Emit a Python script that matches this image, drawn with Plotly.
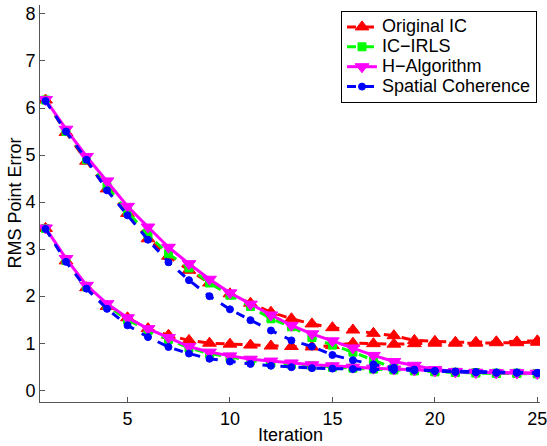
import plotly.graph_objects as go

iterations = list(range(1, 26))

# Upper curve set (start ~6.2)
orig_ic_high = [6.17, 5.48, 4.87, 4.28, 3.76, 3.22, 2.85, 2.55, 2.28, 2.05, 1.85, 1.66, 1.52, 1.41, 1.33, 1.28, 1.21, 1.16, 1.06, 1.04, 1.02, 1.02, 1.03, 1.03, 1.05]
ic_irls_high = [6.17, 5.50, 4.90, 4.33, 3.80, 3.30, 2.90, 2.60, 2.28, 2.02, 1.78, 1.52, 1.35, 1.12, 0.96, 0.81, 0.64, 0.47, 0.42, 0.40, 0.38, 0.37, 0.36, 0.36, 0.35]
h_alg_high = [6.18, 5.55, 4.97, 4.45, 3.91, 3.47, 3.04, 2.69, 2.36, 2.07, 1.83, 1.60, 1.38, 1.20, 1.05, 0.90, 0.74, 0.61, 0.53, 0.44, 0.40, 0.38, 0.37, 0.37, 0.36]
spatial_high = [6.15, 5.50, 4.90, 4.25, 3.72, 3.20, 2.72, 2.34, 2.00, 1.72, 1.49, 1.27, 1.06, 0.93, 0.75, 0.64, 0.55, 0.48, 0.44, 0.41, 0.39, 0.38, 0.37, 0.37, 0.36]

# Lower curve set (start ~3.45)
orig_ic_low = [3.44, 2.75, 2.18, 1.78, 1.54, 1.31, 1.17, 1.06, 1.00, 0.98, 0.96, 0.94, 0.93, 0.92, 0.95, 1.00, 0.99, 0.98, 0.99, 1.00, 1.00, 1.00, 1.01, 1.01, 1.02]
ic_irls_low = [3.44, 2.76, 2.20, 1.80, 1.50, 1.27, 1.08, 0.90, 0.78, 0.70, 0.63, 0.58, 0.55, 0.52, 0.49, 0.47, 0.45, 0.43, 0.41, 0.39, 0.38, 0.37, 0.36, 0.36, 0.35]
h_alg_low = [3.45, 2.80, 2.23, 1.84, 1.54, 1.31, 1.12, 0.93, 0.81, 0.73, 0.66, 0.62, 0.58, 0.54, 0.52, 0.49, 0.47, 0.45, 0.43, 0.41, 0.39, 0.38, 0.37, 0.37, 0.36]
spatial_low = [3.43, 2.73, 2.16, 1.73, 1.38, 1.13, 0.92, 0.78, 0.67, 0.61, 0.56, 0.52, 0.49, 0.47, 0.46, 0.45, 0.44, 0.43, 0.42, 0.41, 0.40, 0.39, 0.38, 0.38, 0.37]

x_ticks = [5, 10, 15, 20, 25]
y_ticks = [0, 1, 2, 3, 4, 5, 6, 7, 8]

series = [
    ("Original IC", orig_ic_high, orig_ic_low, "#ff0000", "dash", "triangle-up", 12),
    ("IC\u2212IRLS", ic_irls_high, ic_irls_low, "#00ff00", "dash", "square", 8),
    ("H\u2212Algorithm", h_alg_high, h_alg_low, "#ff00ff", "solid", "triangle-down", 12),
    ("Spatial Coherence", spatial_high, spatial_low, "#0000ff", "dash", "circle", 7),
]

FONT = "Liberation Sans, Arial, Helvetica, sans-serif"

fig = go.Figure()
for name, hi, lo, color, dash, sym, msize in series:
    for k, ys in enumerate((hi, lo)):
        fig.add_trace(go.Scatter(
            x=iterations, y=ys, mode="lines+markers",
            name='<span style="font-size:18px">' + name + "</span>",
            legendgroup=name, showlegend=(k == 0),
            line=dict(color=color, width=3, dash=dash),
            marker=dict(symbol=sym, size=msize, color=color,
                        line=dict(color=color, width=1)),
        ))

axis_common = dict(
    showline=True, linecolor="#555555", linewidth=1, ticks="inside",
    ticklen=5, tickcolor="#555555", showgrid=False, zeroline=False,
    tickfont=dict(family=FONT, size=18, color="#000000"),
    mirror=False, automargin=False, ticklabeloverflow="allow",
)

fig.update_layout(
    width=547, height=446,
    margin=dict(l=40, r=7, t=5, b=44),
    plot_bgcolor="white", paper_bgcolor="white",
    font=dict(family=FONT, size=18, color="#000000"),
    xaxis=dict(range=[0.73, 25.13], tickvals=x_ticks, **axis_common),
    yaxis=dict(range=[-0.25, 8.19], tickvals=y_ticks, **axis_common),
    legend=dict(x=0.994, y=0.985, xanchor="right", yanchor="top",
                bordercolor="#000000", borderwidth=1, bgcolor="white",
                font=dict(family=FONT, size=13), tracegroupgap=0, itemwidth=30),
    showlegend=True,
    annotations=[
        dict(text="Iteration", xref="paper", yref="paper", x=0.5, y=-0.083,
             xanchor="center", yanchor="middle", showarrow=False,
             font=dict(family=FONT, size=18)),
        dict(text="RMS Point Error", xref="paper", yref="paper", x=-0.052, y=0.5,
             xanchor="center", yanchor="middle", showarrow=False, textangle=-90,
             font=dict(family=FONT, size=18)),
    ],
)

fig.write_html(
    "out.html",
    config={"displayModeBar": False},
    post_script="document.body.style.margin='0';document.body.style.overflow='hidden';",
)
